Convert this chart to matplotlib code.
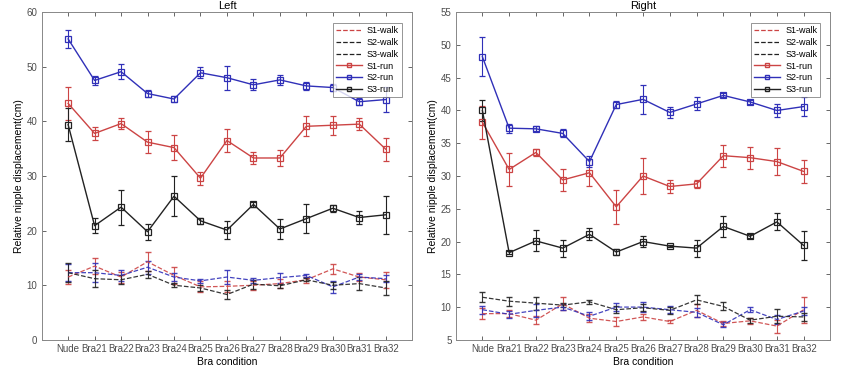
import matplotlib
matplotlib.use("Agg")
import matplotlib.pyplot as plt
from matplotlib.lines import Line2D

conditions = ["Nude", "Bra21", "Bra22", "Bra23", "Bra24", "Bra25", "Bra26",
              "Bra27", "Bra28", "Bra29", "Bra30", "Bra31", "Bra32"]

# Left breast
left_s1_walk = [11.5, 13.5, 11.5, 14.3, 11.8, 9.7, 9.8, 10.0, 10.3, 11.0, 13.0, 11.5, 11.0]
left_s1_walk_err = [1.3, 1.5, 1.0, 1.7, 1.5, 1.0, 1.0, 0.8, 0.8, 0.5, 0.9, 0.8, 1.5]
left_s2_walk = [12.3, 12.3, 11.8, 13.3, 11.5, 10.8, 11.5, 10.9, 11.4, 11.8, 9.7, 11.5, 11.2]
left_s2_walk_err = [1.5, 1.7, 1.0, 1.2, 0.8, 0.4, 1.3, 0.5, 0.9, 0.3, 1.1, 0.6, 0.6]
left_s3_walk = [12.3, 11.2, 11.0, 12.0, 10.0, 9.5, 8.3, 10.2, 9.9, 11.0, 10.0, 10.3, 9.5]
left_s3_walk_err = [1.7, 1.5, 0.8, 0.6, 0.4, 0.6, 0.9, 0.8, 0.4, 0.3, 0.6, 1.2, 1.3]
left_s1_run = [43.3, 37.8, 39.6, 36.2, 35.2, 29.6, 36.5, 33.3, 33.3, 39.1, 39.3, 39.5, 34.9]
left_s1_run_err = [3.0, 1.2, 1.0, 2.0, 2.3, 1.2, 2.1, 1.1, 1.5, 1.8, 1.7, 1.1, 2.1]
left_s2_run = [55.1, 47.5, 49.1, 45.1, 44.1, 48.9, 48.0, 46.7, 47.6, 46.5, 46.2, 43.6, 44.0]
left_s2_run_err = [1.6, 0.9, 1.4, 0.6, 0.5, 1.0, 2.2, 1.0, 0.9, 0.8, 0.6, 0.6, 2.3]
left_s3_run = [39.4, 20.9, 24.3, 19.8, 26.3, 21.8, 20.1, 24.8, 20.3, 22.2, 24.1, 22.4, 22.9]
left_s3_run_err = [3.0, 1.4, 3.2, 1.5, 3.7, 0.6, 1.7, 0.4, 1.8, 2.6, 0.6, 1.2, 3.5]

# Right breast
right_s1_walk = [9.0, 9.0, 8.0, 10.5, 8.3, 7.8, 8.5, 7.8, 9.5, 7.5, 7.9, 7.1, 9.6]
right_s1_walk_err = [0.8, 0.5, 0.6, 1.0, 0.6, 0.7, 0.5, 0.3, 1.0, 0.4, 0.5, 1.0, 2.0]
right_s2_walk = [9.6, 8.9, 9.5, 10.0, 8.6, 10.0, 10.0, 9.6, 9.2, 7.3, 9.6, 8.1, 9.4]
right_s2_walk_err = [0.6, 0.5, 1.0, 0.4, 0.6, 0.6, 0.8, 0.5, 0.7, 0.4, 0.4, 0.7, 0.6]
right_s3_walk = [11.5, 10.9, 10.6, 10.3, 10.8, 9.6, 9.9, 9.5, 11.1, 10.1, 8.0, 8.6, 8.5]
right_s3_walk_err = [0.8, 0.7, 1.0, 0.3, 0.3, 0.5, 0.5, 0.5, 0.7, 0.6, 0.4, 1.1, 0.6]
right_s1_run = [38.2, 31.0, 33.6, 29.4, 30.5, 25.3, 30.0, 28.4, 28.8, 33.1, 32.8, 32.2, 30.7]
right_s1_run_err = [2.5, 2.5, 0.5, 1.7, 2.1, 2.6, 2.7, 1.0, 0.6, 1.7, 1.7, 2.1, 1.7]
right_s2_run = [48.2, 37.3, 37.2, 36.5, 32.2, 40.9, 41.7, 39.7, 41.0, 42.3, 41.3, 40.0, 40.6]
right_s2_run_err = [3.0, 0.7, 0.4, 0.6, 0.8, 0.5, 2.2, 0.8, 1.0, 0.3, 0.3, 1.0, 1.4]
right_s3_run = [40.0, 18.3, 20.1, 19.0, 21.1, 18.4, 20.0, 19.3, 19.0, 22.3, 20.8, 23.0, 19.4]
right_s3_run_err = [1.6, 0.2, 1.6, 1.3, 0.9, 0.4, 0.8, 0.2, 1.3, 1.6, 0.3, 1.3, 2.2]

RED = "#cc4444"
BLUE = "#3030b8"
BLACK = "#222222"
GREY = "#4d4d4d"

plt.rcParams['font.family'] = 'sans-serif'
plt.rcParams['font.sans-serif'] = ['Liberation Sans', 'DejaVu Sans']
plt.rcParams['font.size'] = 7

x = list(range(1, len(conditions) + 1))
nomes_walk = ["S1-walk", "S2-walk", "S3-walk"]
nomes_run = ["S1-run", "S2-run", "S3-run"]
cores = [RED, BLUE, BLACK]


def painel(ax, titulo, walk, run, ylim, yticks):
    # caminhada: tracejado, sem marcador
    for (vals, err), cor in zip(walk, cores):
        ax.errorbar(x, vals, yerr=err, color=cor, linestyle="--", linewidth=0.9,
                    capsize=2.5, elinewidth=0.8, alpha=0.9)
    # corrida: linha cheia com quadrados
    for (vals, err), cor in zip(run, cores):
        ax.errorbar(x, vals, yerr=err, color=cor, linestyle="-", linewidth=1.0,
                    capsize=2.5, elinewidth=0.8, marker='s', markersize=4,
                    markerfacecolor='none', markeredgewidth=0.9)
    ax.set_xlim(0, 14)
    ax.set_ylim(*ylim)
    ax.set_yticks(yticks)
    ax.set_xticks(x)
    ax.set_xticklabels(conditions)
    ax.set_title(titulo, fontsize=8, pad=2)
    ax.set_xlabel("Bra condition", fontsize=7.5, labelpad=2)
    ax.set_ylabel("Relative nipple displacement(cm)", fontsize=7.5, labelpad=2)
    ax.tick_params(direction='in', top=True, right=True, length=3, width=0.6,
                   colors=GREY, labelsize=7, pad=3)
    for s in ax.spines.values():
        s.set_color("#888888")
        s.set_linewidth(0.7)

    # legenda só com a linha (sem barra de erro)
    handles = [Line2D([], [], color=c, linestyle="--", linewidth=0.9) for c in [RED, BLACK, BLACK]]
    handles += [Line2D([], [], color=c, linestyle="-", linewidth=1.0, marker='s',
                       markersize=3.5, markerfacecolor='none') for c in cores]
    leg = ax.legend(handles, nomes_walk + nomes_run, loc='upper right', fontsize=6.5,
                    frameon=True, fancybox=False, edgecolor="#666666", handlelength=2.8,
                    borderpad=0.35, labelspacing=0.3, handletextpad=0.6,
                    bbox_to_anchor=(0.985, 0.98))
    leg.get_frame().set_linewidth(0.6)


fig = plt.figure(figsize=(8.5, 3.69), dpi=100)
ax1 = fig.add_axes([0.049, 0.079, 0.436, 0.888])
ax2 = fig.add_axes([0.536, 0.079, 0.441, 0.888])

painel(ax1, "Left",
       [(left_s1_walk, left_s1_walk_err), (left_s2_walk, left_s2_walk_err), (left_s3_walk, left_s3_walk_err)],
       [(left_s1_run, left_s1_run_err), (left_s2_run, left_s2_run_err), (left_s3_run, left_s3_run_err)],
       (0, 60), range(0, 61, 10))
painel(ax2, "Right",
       [(right_s1_walk, right_s1_walk_err), (right_s2_walk, right_s2_walk_err), (right_s3_walk, right_s3_walk_err)],
       [(right_s1_run, right_s1_run_err), (right_s2_run, right_s2_run_err), (right_s3_run, right_s3_run_err)],
       (5, 55), range(5, 56, 5))

fig.savefig("out.png", dpi=100)
